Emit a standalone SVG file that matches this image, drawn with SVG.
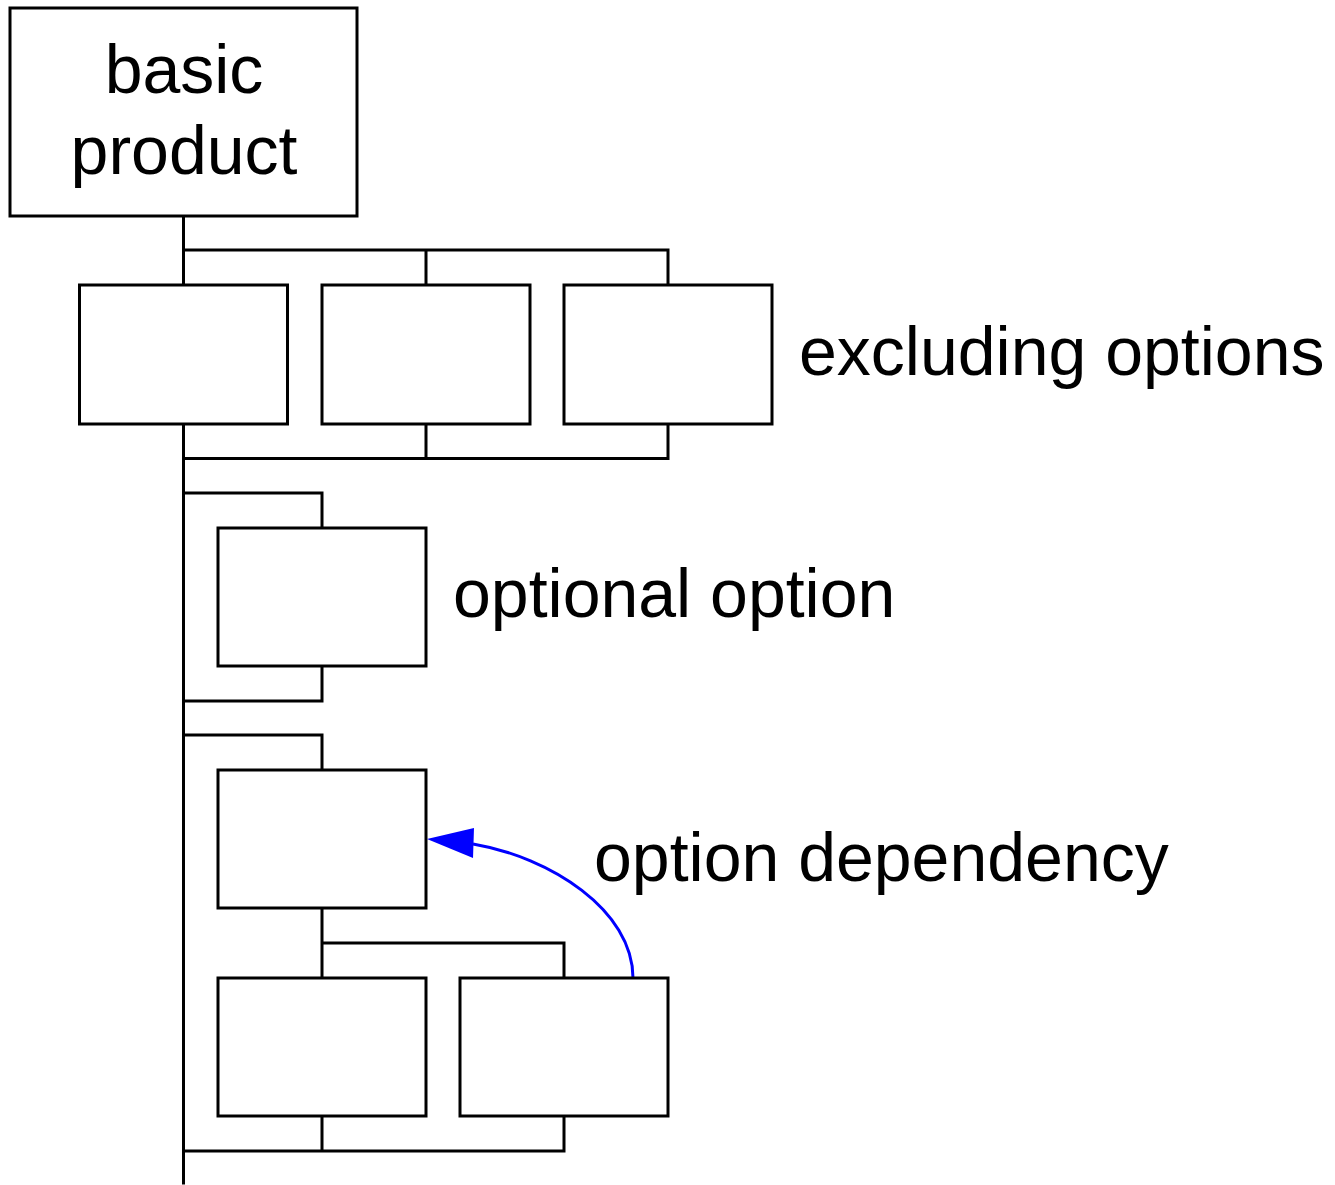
<svg xmlns="http://www.w3.org/2000/svg" width="1335" height="1185" viewBox="0 0 1335 1185">
<style>
.box{fill:#fff;stroke:#000;stroke-width:3}
.ln{fill:none;stroke:#000;stroke-width:3;stroke-linecap:square}
.t{font-family:"Liberation Sans",Arial,sans-serif;font-size:68px;fill:#000}
.dep{fill:none;stroke:#0000ff;stroke-width:3}
</style>
<defs>
<marker id="ah" markerUnits="userSpaceOnUse" markerWidth="50" markerHeight="34" refX="46" refY="17" orient="auto">
<path d="M0,0 L46,17 L0,34 z" fill="#0000ff"/>
</marker>
</defs>
<g id="connectors">
<path class="ln" d="M183.5,216 V285 M183.5,250 H668 M426,250 V285 M668,250 V285"/>
<path class="ln" d="M183.5,424 V1183 M183.5,458.5 H668 M426,424 V458.5 M668,424 V458.5"/>
<path class="ln" d="M183.5,493 H322 V528 M322,666 V701 H183.5"/>
<path class="ln" d="M183.5,735 H322 V770 M322,908 V978 M322,943 H564 V978"/>
<path class="ln" d="M322,1116 V1151 M564,1116 V1151 M183.5,1151 H564"/>
<path class="dep" d="M633,978 C633,910 550,857 473,844" />
<path d="M427,839 L474,828 L473,858 z" fill="#0000ff"/>
</g>
<g id="basic">
<rect class="box" x="10" y="8" width="347" height="208"/>
<text class="t" x="184" y="93" text-anchor="middle">basic</text>
<text class="t" x="184" y="174" text-anchor="middle">product</text>
</g>
<g id="ex1"><rect class="box" x="79.5" y="285" width="208" height="139"/></g>
<g id="ex2"><rect class="box" x="322" y="285" width="208" height="139"/></g>
<g id="ex3"><rect class="box" x="564" y="285" width="208" height="139"/></g>
<g id="opt"><rect class="box" x="218" y="528" width="208" height="138"/></g>
<g id="dep1"><rect class="box" x="218" y="770" width="208" height="138"/></g>
<g id="dep2"><rect class="box" x="218" y="978" width="208" height="138"/></g>
<g id="dep3"><rect class="box" x="460" y="978" width="208" height="138"/></g>
<g id="labels">
<text class="t" x="799" y="375">excluding options</text>
<text class="t" x="453" y="617">optional option</text>
<text class="t" x="594" y="881">option dependency</text>
</g>
</svg>
